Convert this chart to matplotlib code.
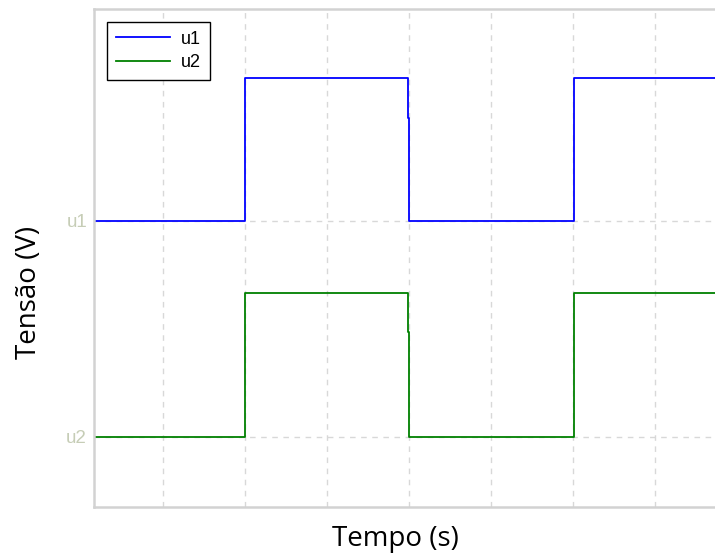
import matplotlib
matplotlib.use("Agg")
import numpy as np
from matplotlib import pyplot as plt

# time instants of the square-wave edges (with the small step at the falling edge)
tempo = [0.16, 2.0, 2.0, 3.99, 3.99, 4.005, 4.005, 6.01, 6.01, 7.8]
u1 = [1.0, 1.0, 1.662, 1.662, 1.477, 1.477, 1.0, 1.0, 1.662, 1.662]
u2 = [0.0, 0.0, 0.667, 0.667, 0.486, 0.486, 0.0, 0.0, 0.667, 0.667]

grade_x = [1, 2, 3, 4, 5, 6, 7]
niveis = [0.0, 1.0]
rotulos = ["u2", "u1"]

fig = plt.figure(figsize=(7.15, 5.53), dpi=100)
ax = fig.add_axes([94 / 715, 1 - 507 / 553, 1 - 94 / 715, 498 / 553])

ax.plot(tempo, u1, color="#0000ff", linewidth=1.3, label="u1")
ax.plot(tempo, u2, color="#008000", linewidth=1.3, label="u2")

ax.set_xlim(0.159, 7.73)
ax.set_ylim(-0.324, 1.981)

ax.set_xticks(grade_x)
ax.set_xticklabels([])
ax.set_yticks(niveis)
ax.set_yticklabels(rotulos)
ax.tick_params(length=0, pad=5, labelsize=13.5, labelcolor="#c6cdb6",
               labelfontfamily="Liberation Sans")

ax.grid(True, linestyle=(0, (4, 4)), color="#d8d8d8", linewidth=1)
for lado in ["left", "bottom", "top"]:
    ax.spines[lado].set_color("#d2d2d2")
    ax.spines[lado].set_linewidth(1.8)
ax.spines["right"].set_visible(False)

ax.set_xlabel("Tempo (s)", fontfamily="Open Sans", fontsize=20, va="top")
ax.xaxis.set_label_coords(0.4855, -0.036)
ax.set_ylabel("Tensão (V)", fontfamily="Open Sans", fontsize=20, va="center")
ax.yaxis.set_label_coords(-0.105, 0.43)

leg = ax.legend(loc="upper left", prop={"family": "Liberation Sans", "size": 13},
                fancybox=False, framealpha=1, edgecolor="black",
                handlelength=3.0, handletextpad=0.6, borderaxespad=0.7,
                borderpad=0.5, labelspacing=0.35)
leg.get_frame().set_linewidth(1.0)

fig.savefig("out.png", dpi=100)
